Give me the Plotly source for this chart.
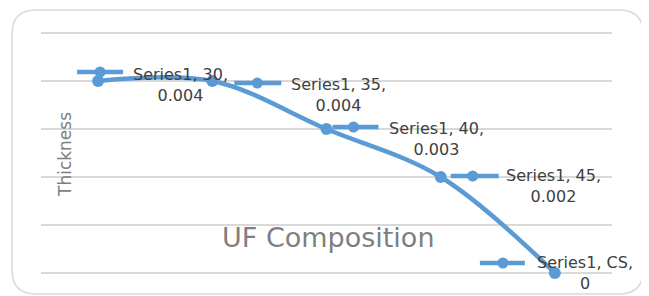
import plotly.graph_objects as go

# ---- data ----
categories = ["30", "35", "40", "45", "CS"]
thickness = [0.004, 0.004, 0.003, 0.002, 0.0]
series_name = "Series1"
y_title = "Thickness"
x_title = "UF Composition"
grid_values = [0, 0.001, 0.002, 0.003, 0.004, 0.005]

# ---- label layout (pixel offsets relative to each point; screen y down) ----
key_x0 = [-21, 22, 6, 10, -75]
key_x1 = [25, 69, 52, 58, -30]
key_mx = [2, 45, 27, 32, -52]
key_dy = [-9, 2, -2, -1, -10]
text_dx = [82, 126, 110, 113, 30]
text_dy = [4, 14, 10, 9, 0]

BLUE = "#5B9BD5"
OFF = 8  # page body margin
W, H = 649 - OFF, 296 - OFF
# plot area in screen px: x 41..612, y 31..275 (0.005 at 33, 0 at 273)
ML, MR, MT, MB = 41 - OFF, 37, 31 - OFF, 21
PW, PH = W - ML - MR, H - MT - MB
pad = 0.005 / 240 * 2

fig = go.Figure()
fig.add_trace(go.Scatter(
    x=categories, y=thickness, mode="lines+markers",
    line=dict(color=BLUE, width=4.5, shape="spline", smoothing=1.0),
    marker=dict(color=BLUE, size=12),
    showlegend=False, hoverinfo="skip", cliponaxis=False,
))

shapes = []
annotations = []
for i, (c, v) in enumerate(zip(categories, thickness)):
    # legend key: line with marker
    shapes.append(dict(
        type="line", xref="x", yref="y",
        xsizemode="pixel", ysizemode="pixel",
        xanchor=i, yanchor=v,
        x0=key_x0[i], x1=key_x1[i], y0=-key_dy[i], y1=-key_dy[i],
        line=dict(color=BLUE, width=4.5), layer="above",
    ))
    r = 5.5
    shapes.append(dict(
        type="circle", xref="x", yref="y",
        xsizemode="pixel", ysizemode="pixel",
        xanchor=i, yanchor=v,
        x0=key_mx[i] - r, x1=key_mx[i] + r,
        y0=-key_dy[i] - r, y1=-key_dy[i] + r,
        fillcolor=BLUE, line=dict(color=BLUE, width=0), layer="above",
    ))
    annotations.append(dict(
        x=i, y=v, xref="x", yref="y",
        text=f"{series_name}, {c},<br>{v:g}",
        showarrow=False, align="center",
        xshift=text_dx[i], yshift=-text_dy[i],
        font=dict(family="DejaVu Sans", size=16, color="#404040"),
    ))

# rounded border (in paper coordinates, built from screen-pixel geometry)
def px(xp):
    return (xp - OFF - ML) / PW

def py(yp):
    return 1 - (yp - OFF - MT) / PH

bx0, bx1, by0, by1, rad = 12, 643, 10, 294, 24
path = (
    f"M {px(bx0 + rad)},{py(by0)} L {px(bx1 - rad)},{py(by0)} "
    f"Q {px(bx1)},{py(by0)} {px(bx1)},{py(by0 + rad)} "
    f"L {px(bx1)},{py(by1 - rad)} "
    f"Q {px(bx1)},{py(by1)} {px(bx1 - rad)},{py(by1)} "
    f"L {px(bx0 + rad)},{py(by1)} "
    f"Q {px(bx0)},{py(by1)} {px(bx0)},{py(by1 - rad)} "
    f"L {px(bx0)},{py(by0 + rad)} "
    f"Q {px(bx0)},{py(by0)} {px(bx0 + rad)},{py(by0)} Z"
)
shapes.append(dict(type="path", xref="paper", yref="paper", path=path,
                   line=dict(color="#D9D9D9", width=1.5), layer="below"))

annotations.append(dict(
    x=px(53), y=py(155), xref="paper", yref="paper", text=y_title,
    textangle=-90, showarrow=False,
    font=dict(family="DejaVu Sans", size=17, color="#7F7F7F"),
))
annotations.append(dict(
    x=px(328), y=py(255), xref="paper", yref="paper", text=x_title,
    showarrow=False,
    font=dict(family="DejaVu Sans", size=27, color="#7F7F7F"),
))

fig.update_layout(
    width=W, height=H,
    margin=dict(l=ML, r=MR, t=MT, b=MB),
    paper_bgcolor="white", plot_bgcolor="white",
    shapes=shapes, annotations=annotations,
    xaxis=dict(type="category", range=[-0.5, 4.5], showticklabels=False,
               showgrid=False, zeroline=False, showline=False, ticks=""),
    yaxis=dict(range=[-pad, 0.005 + pad], tickvals=grid_values,
               showticklabels=False,
               showgrid=True, gridcolor="#D9D9D9", gridwidth=1.5,
               zeroline=False, showline=False, ticks=""),
)

fig.write_html("out.html")
